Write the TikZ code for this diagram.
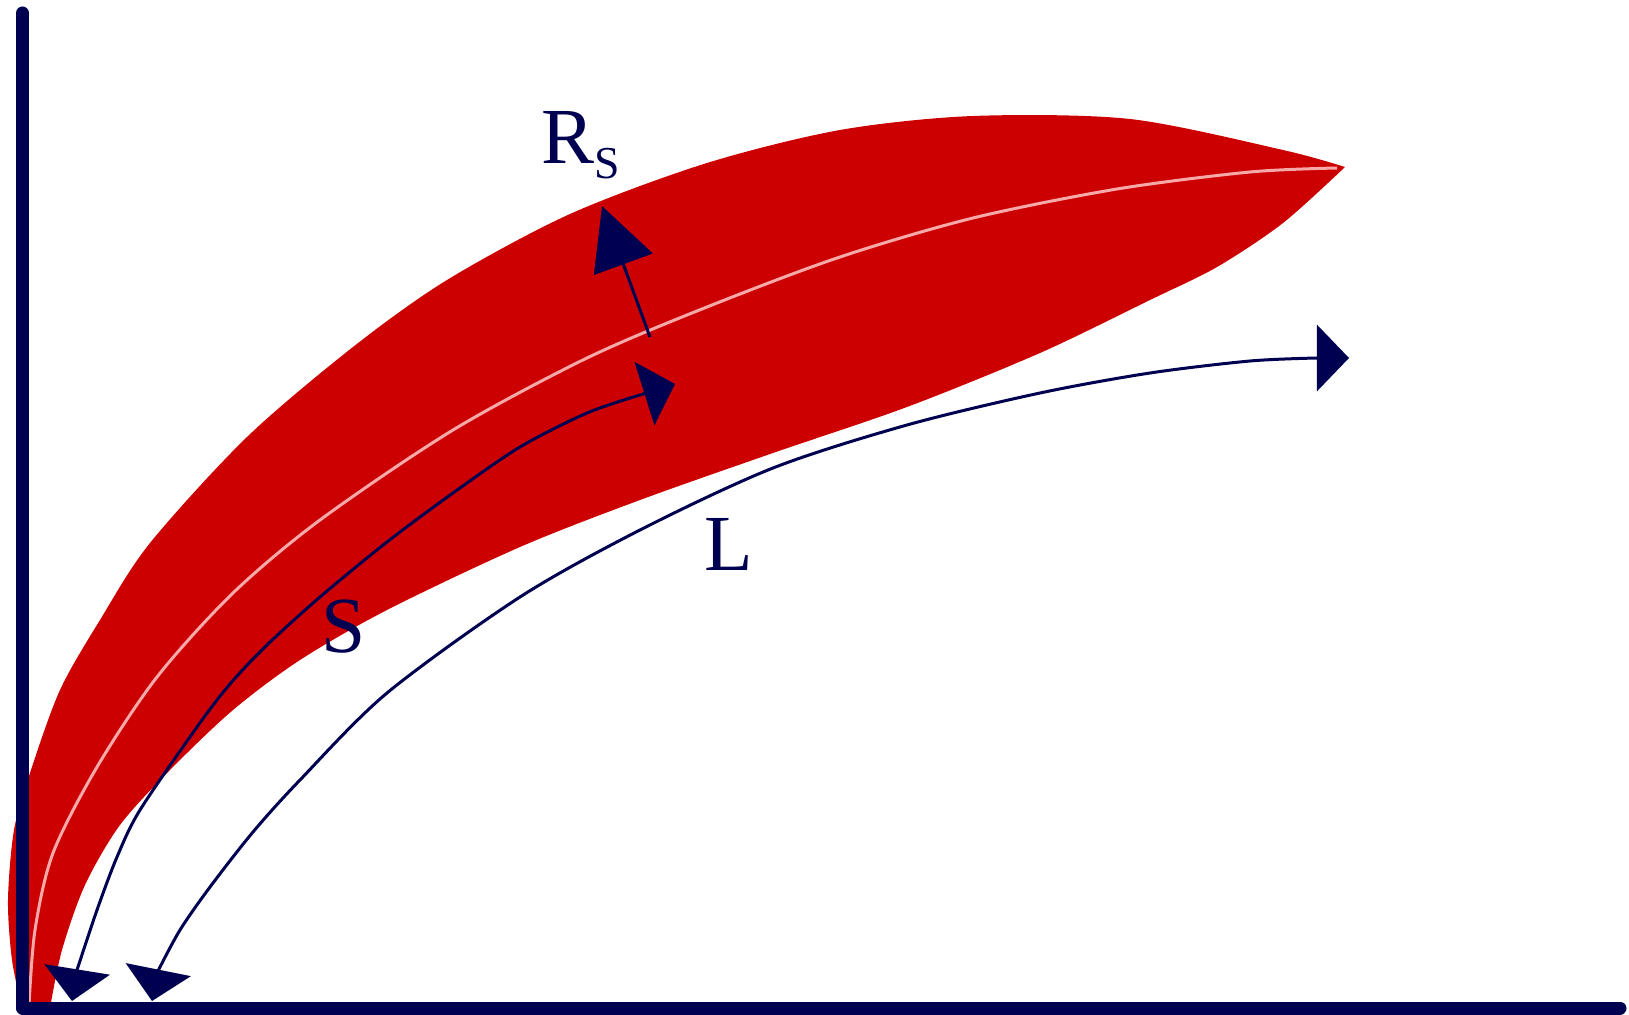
\documentclass[tikz,border=0pt]{standalone}
\usepackage{fontspec}
\setmainfont{Liberation Serif}
\usetikzlibrary{arrows.meta}
\definecolor{axisnavy}{HTML}{000050}
\definecolor{bandred}{HTML}{CC0000}
\definecolor{bandpink}{HTML}{F7A8A8}

\begin{document}
\begin{tikzpicture}[
      x=0.01cm, y=-0.01cm,
      >={Triangle[length=3.2mm, width=6.6mm]},
      every node/.style={font=\fontsize{22.6}{27}\selectfont, text=axisnavy, inner sep=0pt},
      axisline/.style={draw=axisnavy, line width=0.13cm, line cap=round, line join=round},
      curveline/.style={draw=axisnavy, line width=0.03cm, fill=none},
      midline/.style={draw=bandpink, line width=0.03cm},
    ]
    \useasboundingbox (0,0) rectangle (1629,1015);

    % the band
    \fill[bandred] plot[smooth] coordinates {(22,1008) (12,960) (8,900) (14,830)
        (30,773) (60,690) (100,620) (150,543) (247,437) (353,347) (447,280)
        (570,214) (707,163) (840,130) (973,116) (1130,119) (1283,150) (1345,167)}
      -- plot[smooth] coordinates {(1345,167) (1283,223) (1217,267) (1150,300)
        (1040,353) (907,407) (773,453) (640,500) (520,547) (387,610) (300,660)
        (233,710) (170,770) (120,825) (85,885) (62,950) (50,1008)} -- cycle;
    \draw[midline] plot[smooth] coordinates {(29,1006) (35,930) (53,853) (97,767)
        (157,677) (233,593) (320,520) (453,430) (587,358) (707,307) (840,257)
        (973,218) (1117,189) (1250,172) (1337,168)};

    % axes
    \coordinate (origin) at (22.5,1008);
    \coordinate (ytop) at (22.5,13);
    \coordinate (xend) at (1620,1008);
    \draw[axisline] (ytop) -- (origin) -- (xend);

    % S and L
    \coordinate (Sbot) at (72,1001);
    \coordinate (Stop) at (675,384);
    \draw[curveline, <->] (Sbot) -- plot[smooth] coordinates {(77,970) (97,910)
        (117,857) (140,810) (197,727) (230,684) (267,645) (320,597) (387,542)
        (453,493) (520,447) (587,413) (640,395)} -- (Stop);
    \coordinate (Lbot) at (152,1001);
    \coordinate (Ltop) at (1349,358);
    \draw[curveline, <->] (Lbot) -- plot[smooth] coordinates {(158,971) (180,930)
        (210,887) (253,832) (300,780) (387,693) (520,597) (640,530) (773,468)
        (907,425) (1040,393) (1150,373) (1250,361) (1317,358)} -- (Ltop);

    % radius arrow
    \coordinate (rsfoot) at (650,337);
    \coordinate (rstip) at (602,206);
    \draw[curveline, -{Triangle[length=6.2mm, width=6.2mm]}] (rsfoot) -- (rstip);

    \node[anchor=base west] (lblRS) at (541,163)
      {R\raisebox{-4.5pt}{\fontsize{13}{13}\selectfont S}};
    \node[anchor=base] (lblS) at (344,652) {S};
    \node[anchor=base] (lblL) at (729,570) {L};
  \end{tikzpicture}
\end{document}
